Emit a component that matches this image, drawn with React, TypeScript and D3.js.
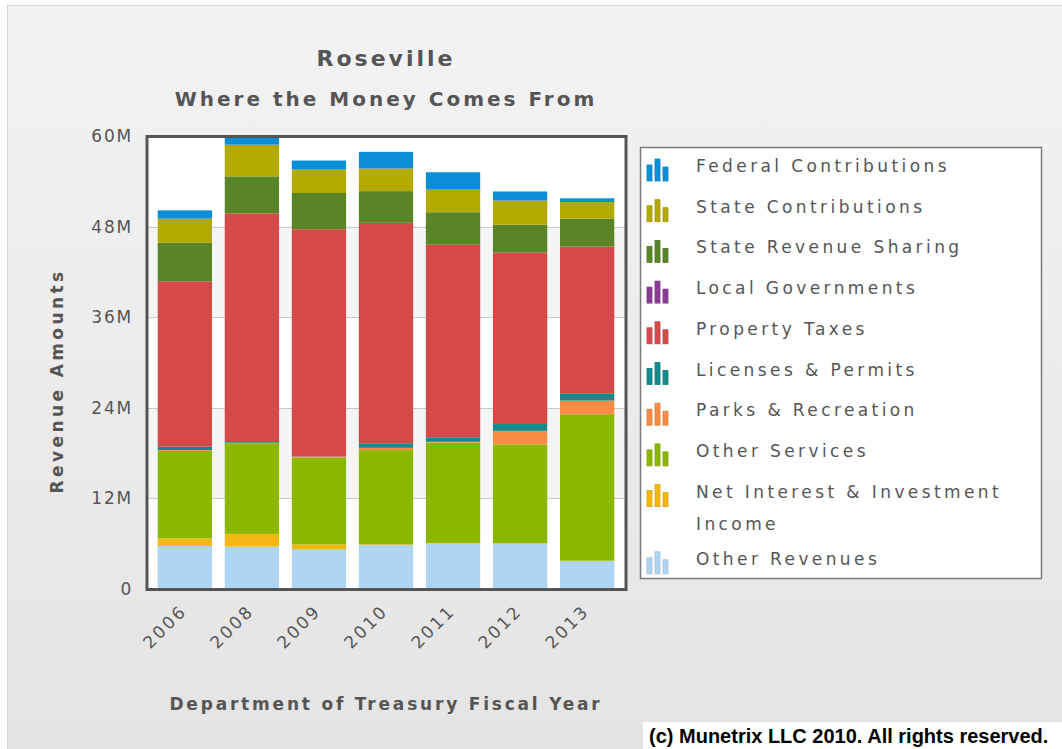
import React, { useEffect, useRef } from 'react';
import * as d3 from 'd3';

// values in millions of dollars
const years = ['2006', '2008', '2009', '2010', '2011', '2012', '2013'];
const otherRevenues = [5.7, 5.6, 5.3, 5.8, 6.0, 6.0, 3.7];
const netInterest = [1.0, 1.7, 0.6, 0.1, 0.1, 0.05, 0.05];
const otherServices = [11.6, 11.9, 11.5, 12.5, 13.3, 13.1, 19.4];
const parksRecreation = [0.1, 0.15, 0.1, 0.3, 0.1, 1.8, 1.8];
const licensesPermits = [0.45, 0.1, 0.05, 0.6, 0.6, 0.9, 0.9];
const propertyTaxes = [21.9, 30.3, 30.1, 29.2, 25.5, 22.7, 19.5];
const localGovernments = [0, 0, 0, 0, 0, 0, 0];
const stateRevenueSharing = [5.1, 4.9, 4.8, 4.2, 4.3, 3.7, 3.7];
const stateContributions = [3.2, 4.2, 3.1, 3.0, 3.0, 3.2, 2.2];
const federalContributions = [1.1, 1.0, 1.2, 2.2, 2.3, 1.2, 0.5];

const yTicks = [0, 12, 24, 36, 48, 60];
const yTickLabels = ['0', '12M', '24M', '36M', '48M', '60M'];

// stacked bottom to top
const series = [
    { name: 'Other Revenues', values: otherRevenues, color: '#afd5f4' },
    { name: 'Net Interest & Investment Income', values: netInterest, color: '#f4b611' },
    { name: 'Other Services', values: otherServices, color: '#8cb700' },
    { name: 'Parks & Recreation', values: parksRecreation, color: '#f98b45' },
    { name: 'Licenses & Permits', values: licensesPermits, color: '#128a8c' },
    { name: 'Property Taxes', values: propertyTaxes, color: '#d64949' },
    { name: 'Local Governments', values: localGovernments, color: '#8c3c97' },
    { name: 'State Revenue Sharing', values: stateRevenueSharing, color: '#5a8527' },
    { name: 'State Contributions', values: stateContributions, color: '#b3aa00' },
    { name: 'Federal Contributions', values: federalContributions, color: '#0a8fd7' },
];

const legendLines: Record<string, string[]> = {
    'Net Interest & Investment Income': ['Net Interest & Investment', 'Income'],
};

const W = 1062;
const H = 749;
const font = '"DejaVu Sans", Verdana, sans-serif';
const grey = '#555555';

const App = () => {
    const ref = useRef<SVGSVGElement>(null);

    useEffect(() => {
        const svg = d3.select(ref.current);
        svg.selectAll('*').remove();

        const defs = svg.append('defs');
        const bg = defs.append('linearGradient').attr('id', 'bg').attr('x1', 0).attr('y1', 0).attr('x2', 0).attr('y2', 1);
        bg.append('stop').attr('offset', '0%').attr('stop-color', '#f3f3f3');
        bg.append('stop').attr('offset', '100%').attr('stop-color', '#e4e4e4');

        svg.append('rect').attr('width', W).attr('height', H).attr('fill', '#ffffff');
        svg.append('rect')
            .attr('x', 7.5).attr('y', 5.5).attr('width', W).attr('height', H)
            .attr('fill', 'url(#bg)').attr('stroke', '#d6d6d6');

        const x = d3.scaleBand()
            .domain(years)
            .range([151, 621])
            .paddingInner(0.19)
            .paddingOuter(0.1);
        const y = d3.scaleLinear().domain([0, 60]).range([589, 136]);

        // plot background with alternating bands
        svg.append('rect').attr('x', 147).attr('y', 136).attr('width', 479).attr('height', 454).attr('fill', '#ffffff');
        svg.selectAll('.band')
            .data(yTicks.slice(0, -1).filter((d, i) => i % 2 === 1))
            .enter()
            .append('rect')
            .attr('x', 147).attr('width', 479)
            .attr('y', (d) => y(d + 12))
            .attr('height', (d) => y(d) - y(d + 12))
            .attr('fill', '#f5f5f5');
        svg.selectAll('.grid')
            .data(yTicks.slice(1, -1))
            .enter()
            .append('line')
            .attr('x1', 147).attr('x2', 626)
            .attr('y1', (d) => Math.round(y(d)) + 0.5)
            .attr('y2', (d) => Math.round(y(d)) + 0.5)
            .attr('stroke', '#c8c8c8');

        // stacked bars
        const rows = years.map((yr, i) => {
            const r: any = { year: yr };
            series.forEach((s) => { r[s.name] = s.values[i]; });
            return r;
        });
        const stack = d3.stack<any>().keys(series.map((s) => s.name))(rows);

        svg.append('g').selectAll('g')
            .data(stack)
            .enter()
            .append('g')
            .attr('fill', (d, i) => series[i].color)
            .selectAll('rect')
            .data((d) => d)
            .enter()
            .append('rect')
            .attr('x', (d) => x(d.data.year) as number)
            .attr('width', x.bandwidth())
            .attr('y', (d) => y(d[1]))
            .attr('height', (d) => Math.max(0, y(d[0]) - y(d[1])));

        // plot frame
        svg.append('rect')
            .attr('x', 147).attr('y', 136.5).attr('width', 479).attr('height', 453)
            .attr('fill', 'none').attr('stroke', '#555555').attr('stroke-width', 3);

        // y axis labels
        svg.selectAll('.ytick')
            .data(yTicks)
            .enter()
            .append('text')
            .attr('x', 133)
            .attr('y', (d) => y(d) + 6)
            .attr('text-anchor', 'end')
            .attr('font-family', font).attr('font-size', 17).attr('letter-spacing', 1.8)
            .attr('fill', grey)
            .text((d, i) => yTickLabels[i]);

        // x axis labels
        svg.selectAll('.xtick')
            .data(years)
            .enter()
            .append('text')
            .attr('transform', (d) => `translate(${(x(d) as number) + x.bandwidth() / 2 + 3}, 612) rotate(-45)`)
            .attr('text-anchor', 'end')
            .attr('font-family', font).attr('font-size', 17).attr('letter-spacing', 2.5)
            .attr('fill', grey)
            .text((d) => d);

        // titles
        svg.append('text')
            .attr('x', 386).attr('y', 66)
            .attr('text-anchor', 'middle')
            .attr('font-family', font).attr('font-size', 22).attr('font-weight', 'bold').attr('letter-spacing', 3)
            .attr('fill', grey)
            .text('Roseville');
        svg.append('text')
            .attr('x', 386).attr('y', 106)
            .attr('text-anchor', 'middle')
            .attr('font-family', font).attr('font-size', 20).attr('font-weight', 'bold').attr('letter-spacing', 3)
            .attr('fill', grey)
            .text('Where the Money Comes From');

        // axis titles
        svg.append('text')
            .attr('transform', 'translate(63, 381) rotate(-90)')
            .attr('text-anchor', 'middle')
            .attr('font-family', font).attr('font-size', 17).attr('font-weight', 'bold').attr('letter-spacing', 3.4)
            .attr('fill', grey)
            .text('Revenue Amounts');
        svg.append('text')
            .attr('x', 386).attr('y', 710)
            .attr('text-anchor', 'middle')
            .attr('font-family', font).attr('font-size', 17).attr('font-weight', 'bold').attr('letter-spacing', 2.8)
            .attr('fill', grey)
            .text('Department of Treasury Fiscal Year');

        // legend
        svg.append('rect')
            .attr('x', 640.5).attr('y', 147.5).attr('width', 401).attr('height', 431)
            .attr('fill', '#ffffff').attr('stroke', '#7a7a7a').attr('stroke-width', 1.5);

        let ly = 172;
        series.slice().reverse().forEach((s) => {
            const g = svg.append('g').attr('transform', `translate(647, ${ly})`);
            const icon = [[0, 6, 8], [8, 6, 14], [16, 6, 6]];
            icon.forEach(([bx, bw, bh]) => {
                g.append('rect')
                    .attr('x', bx).attr('y', 9 - bh - 8).attr('width', bw - 1).attr('height', bh + 8)
                    .attr('fill', s.color).attr('stroke', d3.color(s.color)!.darker(0.3).toString()).attr('stroke-width', 0.8);
            });
            const lines = legendLines[s.name] || [s.name];
            lines.forEach((t, k) => {
                g.append('text')
                    .attr('x', 49).attr('y', k * 32)
                    .attr('font-family', font).attr('font-size', 17).attr('letter-spacing', 3.4)
                    .attr('fill', grey)
                    .text(t);
            });
            ly += 40.7 + (lines.length - 1) * 26.5;
        });

        // copyright
        svg.append('rect').attr('x', 643).attr('y', 722).attr('width', W - 643).attr('height', H - 722).attr('fill', '#ffffff');
        svg.append('text')
            .attr('x', 649).attr('y', 743)
            .attr('font-family', '"Liberation Sans", Arial, sans-serif').attr('font-size', 20).attr('font-weight', 'bold')
            .attr('fill', '#000000')
            .text('(c) Munetrix LLC 2010. All rights reserved.');
    }, []);

    return (
        <div style={{ position: 'absolute', left: 0, top: 0 }}>
            <svg ref={ref} width={W} height={H} style={{ display: 'block' }} />
        </div>
    );
};

export default App;
